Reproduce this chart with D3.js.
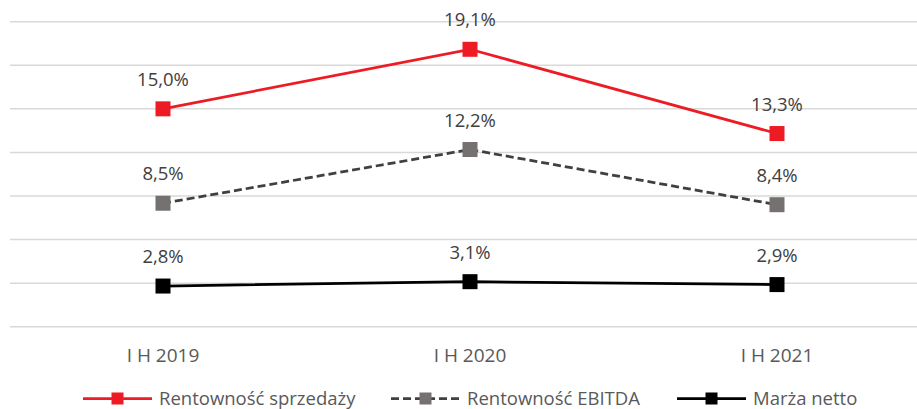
<!DOCTYPE html>
<html lang="pl">
<head>
    <meta charset="UTF-8">
    <title>Rentowność</title>
    <script src="https://d3js.org/d3.v7.min.js"></script>
    <style>
        body { margin: 0; background: #fff; }
        svg { display: block; font-family: "Open Sans", sans-serif; }
    </style>
</head>
<body>
<svg width="917" height="409"></svg>
<script>

    const w = 917, h = 409;

    // data
    const periods = ["I H 2019", "I H 2020", "I H 2021"];
    const sprzedaz = [15.0, 19.1, 13.3];
    const ebitda   = [8.5, 12.2, 8.4];
    const netto    = [2.8, 3.1, 2.9];
    const seriesNames = ["Rentowność sprzedaży", "Rentowność EBITDA", "Marża netto"];
    const yTicks = [0, 3, 6, 9, 12, 15, 18, 21];

    const styles = [
        {line: "#ed1c24", marker: "#ed1c24", dash: null},
        {line: "#404040", marker: "#767171", dash: "8,4"},
        {line: "#000000", marker: "#000000", dash: null}
    ];
    const series = [sprzedaz, ebitda, netto].map((vals, i) => ({
        name: seriesNames[i], values: vals, style: styles[i]
    }));

    const x = d3.scaleBand().domain(periods).range([9.5, 930.5]).padding(0);
    const y = d3.scaleLinear().domain([0, 21]).range([326.7, 21.7]);
    const cx = d => x(d) + x.bandwidth() / 2;

    const svg = d3.select("svg");
    const fmt = v => d3.format(".1f")(v).replace(".", ",") + "%";

    // gridlines
    svg.append("g")
        .selectAll("line")
        .data(yTicks)
        .enter()
        .append("line")
        .attr("x1", 10).attr("x2", w)
        .attr("y1", d => y(d)).attr("y2", d => y(d))
        .attr("stroke", "#d9d9d9")
        .attr("stroke-width", 1.5);

    // category labels
    svg.append("g")
        .selectAll("text")
        .data(periods)
        .enter()
        .append("text")
        .attr("x", d => cx(d))
        .attr("y", 362)
        .attr("text-anchor", "middle")
        .attr("font-size", 19)
        .attr("fill", "#595959")
        .text(d => d);

    const line = d3.line()
        .x((d, i) => cx(periods[i]))
        .y(d => y(d));

    const g = svg.append("g")
        .selectAll("g.series")
        .data(series)
        .enter()
        .append("g")
        .attr("class", "series");

    g.append("path")
        .attr("d", d => line(d.values))
        .attr("fill", "none")
        .attr("stroke", d => d.style.line)
        .attr("stroke-width", 2.75)
        .attr("stroke-dasharray", d => d.style.dash);

    const ms = 15;
    g.selectAll("rect")
        .data(d => d.values.map((v, i) => ({v, i, s: d.style})))
        .enter()
        .append("rect")
        .attr("x", d => cx(periods[d.i]) - ms / 2)
        .attr("y", d => y(d.v) - ms / 2)
        .attr("width", ms).attr("height", ms)
        .attr("fill", d => d.s.marker);

    g.selectAll("text")
        .data(d => d.values.map((v, i) => ({v, i})))
        .enter()
        .append("text")
        .attr("x", d => cx(periods[d.i]))
        .attr("y", d => y(d.v) - 23)
        .attr("text-anchor", "middle")
        .attr("font-size", 18.5)
        .attr("fill", "#404040")
        .text(d => fmt(d.v));

    // legend
    const legendX = [83, 391, 677];
    const leg = svg.append("g")
        .selectAll("g")
        .data(series)
        .enter()
        .append("g")
        .attr("transform", (d, i) => `translate(${legendX[i]},398.5)`);

    leg.append("line")
        .attr("x1", 0).attr("x2", 69)
        .attr("stroke", d => d.style.line)
        .attr("stroke-width", 2.75)
        .attr("stroke-dasharray", d => d.style.dash);

    leg.append("rect")
        .attr("x", 34.5 - 6).attr("y", -6)
        .attr("width", 12).attr("height", 12)
        .attr("fill", d => d.style.marker);

    leg.append("text")
        .attr("x", 76)
        .attr("y", 6.5)
        .attr("font-size", 18.5)
        .attr("fill", "#595959")
        .text(d => d.name);

</script>
</body>
</html>
